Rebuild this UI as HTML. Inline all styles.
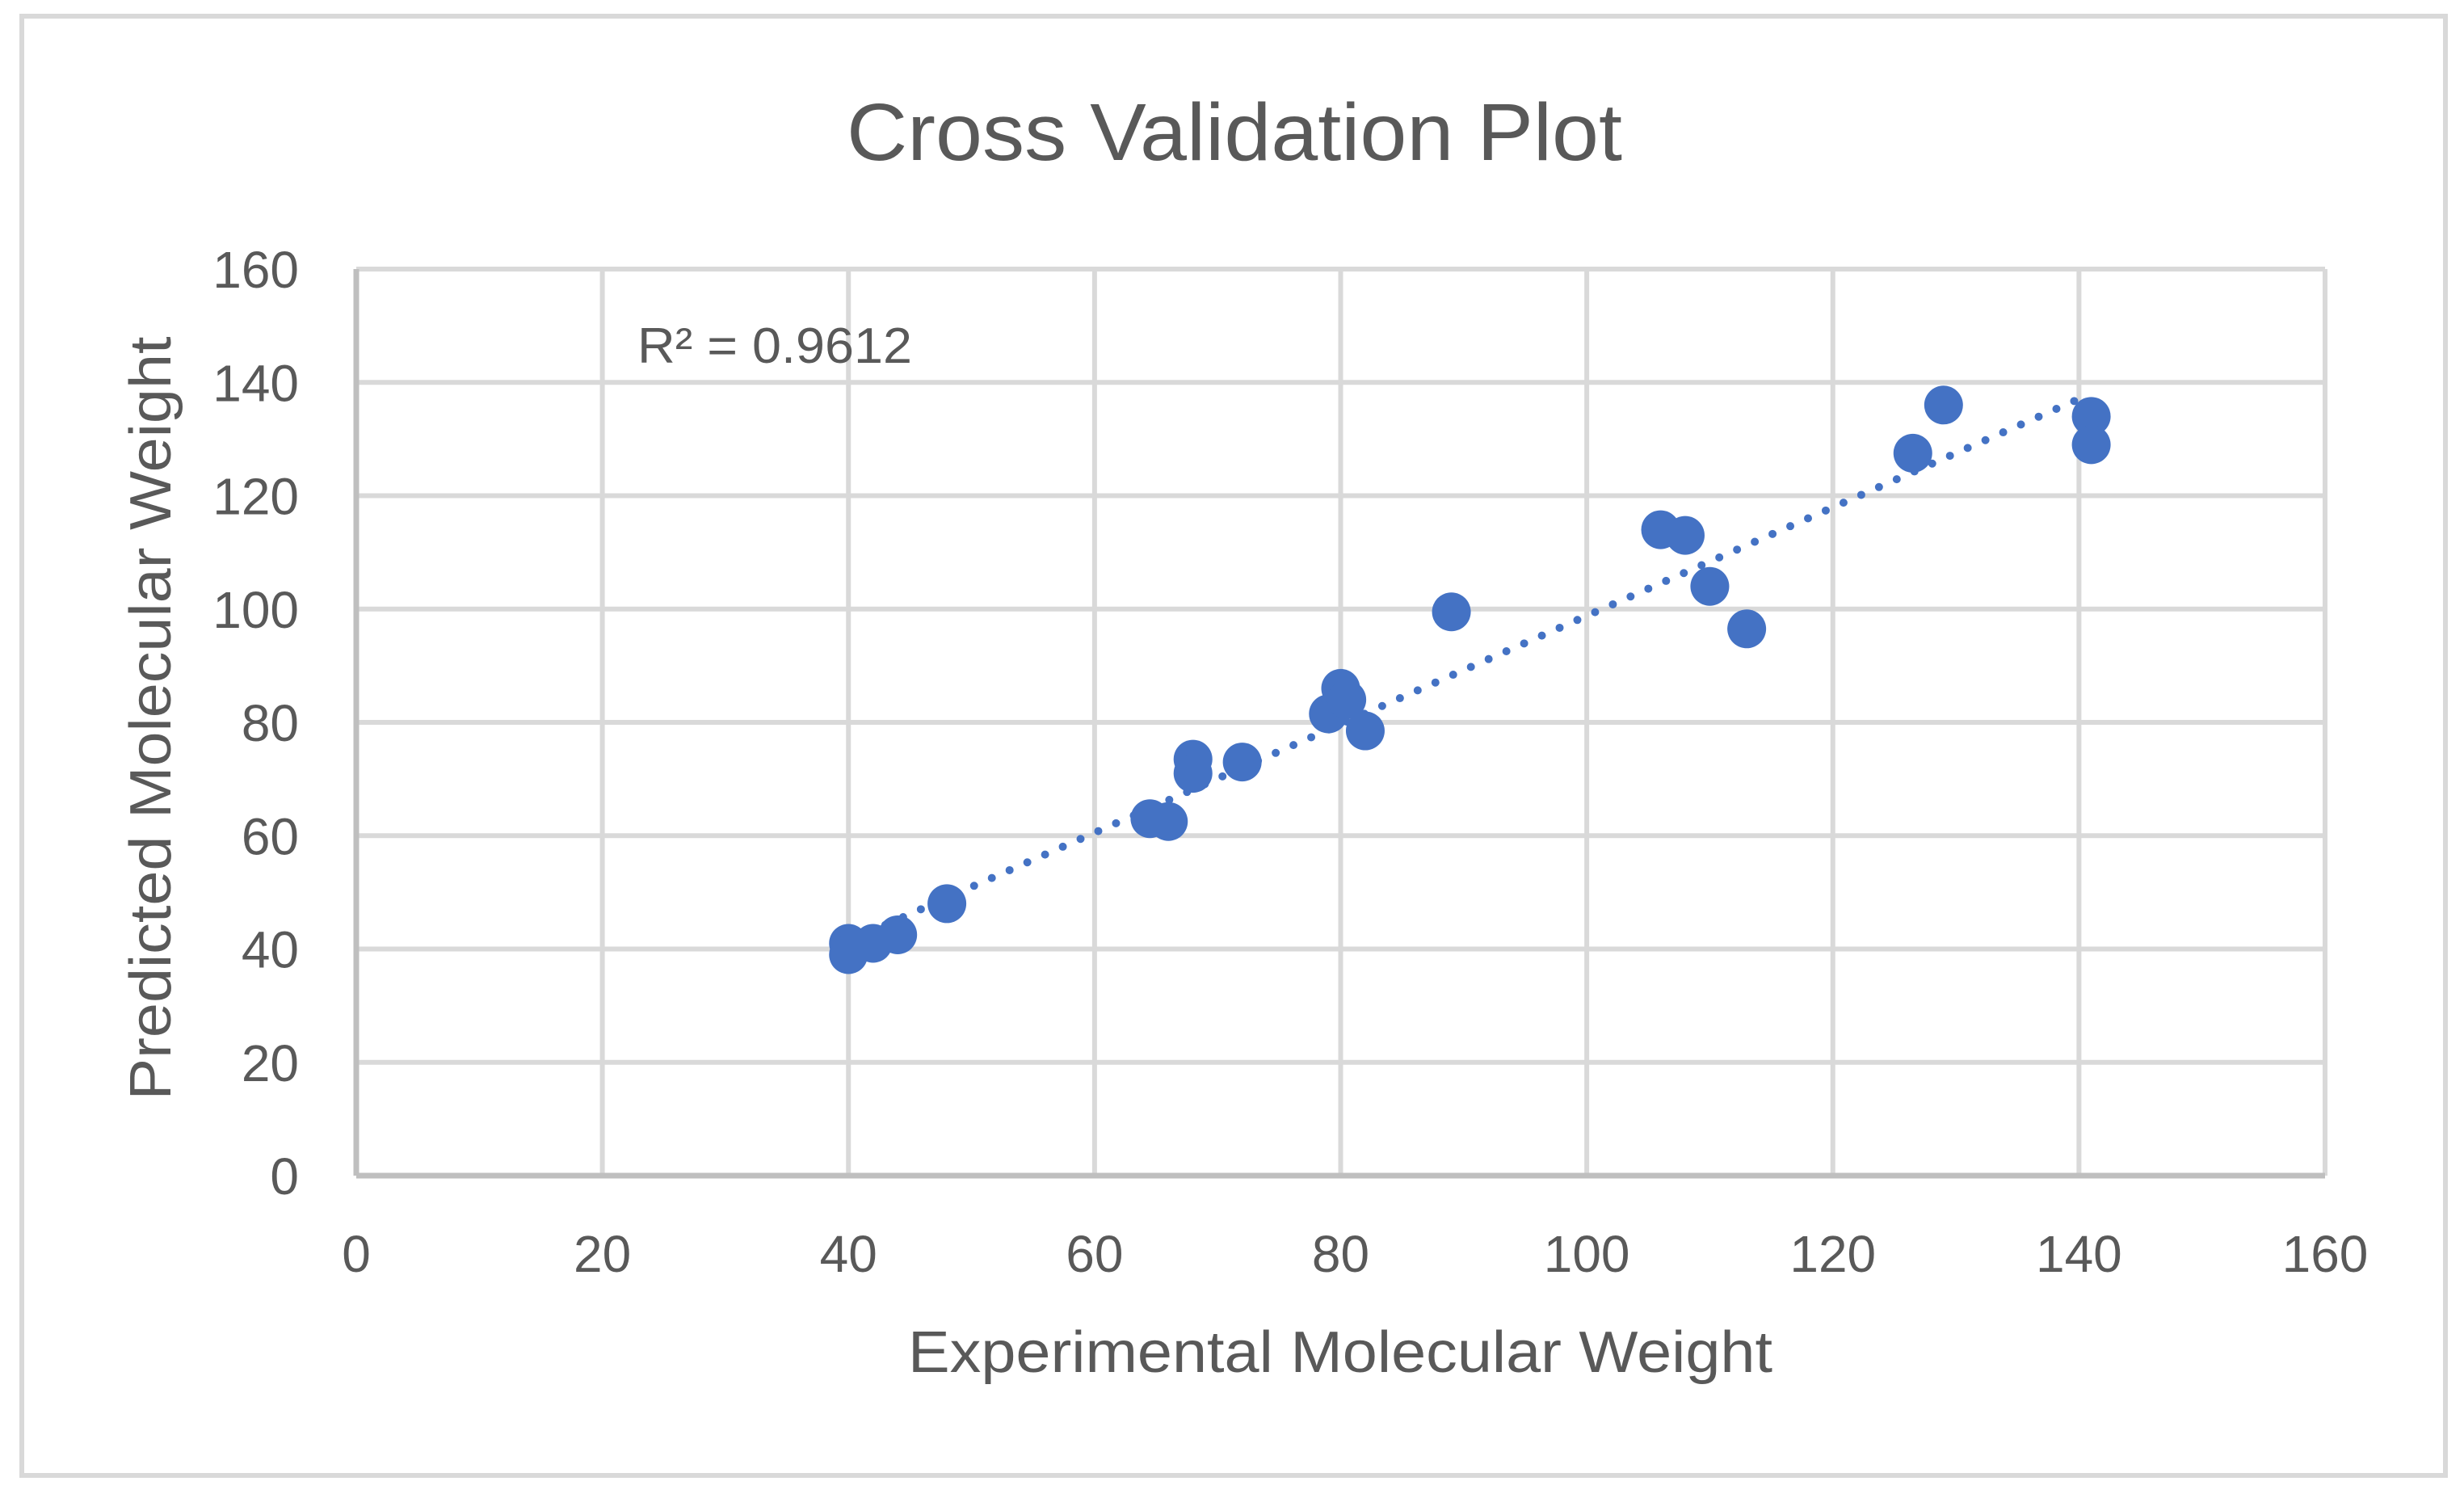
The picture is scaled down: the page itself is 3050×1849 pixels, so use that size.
<!DOCTYPE html>
<html><head><meta charset="utf-8">
<style>
html,body{margin:0;padding:0;background:#fff;}
svg{display:block;}
text{font-family:"Liberation Sans",sans-serif;fill:#595959;}
</style></head>
<body>
<svg id="chart" width="3050" height="1849" viewBox="0 0 3050 1849">
<rect x="27" y="20" width="3000" height="1806" fill="#fff" stroke="#d9d9d9" stroke-width="6"/>
<text x="1528" y="198" font-size="100" text-anchor="middle" textLength="960" lengthAdjust="spacingAndGlyphs">Cross Validation Plot</text>
<g id="grid"></g>
<g id="ticks"></g>
<g id="trend"></g>
<g id="points"></g>
<text x="789" y="449" font-size="62" textLength="340" lengthAdjust="spacingAndGlyphs">R² = 0.9612</text>
<text transform="translate(211,889) rotate(-90)" font-size="72" text-anchor="middle" textLength="945" lengthAdjust="spacingAndGlyphs">Predicted Molecular Weight</text>
<text x="1659" y="1698" font-size="72" text-anchor="middle" textLength="1070" lengthAdjust="spacingAndGlyphs">Experimental Molecular Weight</text>
</svg>
<script>
const xTicks = [0,20,40,60,80,100,120,140,160];
const yTicks = [0,20,40,60,80,100,120,140,160];
const expX = [40,40,42,44,48,64.5,66,68,68,72,79,80,80.5,82,89,106,108,110,113,126.5,129,141,141];
const predY = [41,39,41,42.5,48,63,62.5,73.5,71,73,81.5,86,84,78.5,99.5,114,113,104,96.5,127.5,136,134,129];
const trendRange = [43,141];
const trendCoef = [0.957,3.1];

const NS="http://www.w3.org/2000/svg";
const X0=441,X1=2878,Y0=1455,Y1=333,MAX=160;
const sx=v=>X0+(X1-X0)*v/MAX;
const sy=v=>Y0-(Y0-Y1)*v/MAX;
function mk(tag,attrs,parent){const e=document.createElementNS(NS,tag);for(const k in attrs)e.setAttribute(k,attrs[k]);parent.appendChild(e);return e;}
const grid=document.getElementById('grid'),ticks=document.getElementById('ticks');
yTicks.forEach(v=>{
  if(v>0){const l=mk('line',{x1:X0,x2:X1,y1:sy(v),y2:sy(v),stroke:'#d9d9d9','stroke-width':6},grid);
  
  }
  const t=mk('text',{x:370,y:sy(v)+23,'font-size':64,'text-anchor':'end'},ticks);t.textContent=v;
  
  
});
xTicks.forEach(v=>{
  if(v>0){const l=mk('line',{x1:sx(v),x2:sx(v),y1:Y0,y2:Y1,stroke:'#d9d9d9','stroke-width':6},grid);
  
  }
  const t=mk('text',{x:sx(v),y:1574,'font-size':64,'text-anchor':'middle'},ticks);t.textContent=v;
  
  
});
const ax=mk('line',{x1:X0,x2:X1,y1:Y0,y2:Y0,stroke:'#bfbfbf','stroke-width':7},grid);


const ay=mk('line',{x1:X0,x2:X0,y1:Y0,y2:Y1,stroke:'#bfbfbf','stroke-width':7},grid);


const pts=document.getElementById('points');
expX.forEach((x,i)=>{
  const c=mk('circle',{cx:sx(x),cy:sy(predY[i]),r:24,fill:'#4472c4'},pts);
  
  
});
const tr=document.getElementById('trend');
const tl=mk('line',{x1:sx(trendRange[0]),y1:sy(trendCoef[0]*trendRange[0]+trendCoef[1]),x2:sx(trendRange[1]),y2:sy(trendCoef[0]*trendRange[1]+trendCoef[1]),stroke:'#4472c4','stroke-width':10,'stroke-linecap':'round','stroke-dasharray':'0 24'},tr);


</script>
</body></html>
